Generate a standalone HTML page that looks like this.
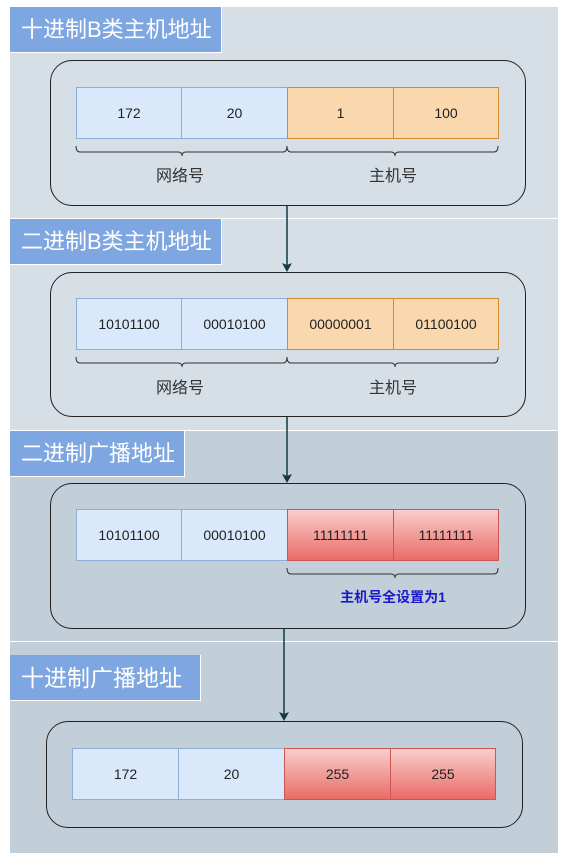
<!DOCTYPE html>
<html><head><meta charset="utf-8"><style>
body{margin:0;width:570px;height:862px;background:#fff;position:relative;font-family:"Liberation Sans","Noto Sans CJK SC",sans-serif;overflow:hidden}
.p{position:absolute;left:10px;width:548px}
.t{position:absolute;left:10px;background:#7ea6e0;color:#fff;font-size:22px;line-height:46px;height:46px;padding-left:11px;border-right:1px solid #fff;border-bottom:1px solid #fff;box-sizing:border-box;white-space:nowrap;overflow:hidden}
.c{position:absolute;border:1.5px solid #222;border-radius:22px;box-sizing:border-box}
.cell{position:absolute;height:52px;box-sizing:border-box;font-size:14px;color:#222;display:flex;align-items:center;justify-content:center}
.b{background:#dae8fc;border:1px solid #8eaed8}
.o{background:#fad7ac;border:1px solid #d08a30}
.r{background:linear-gradient(#f8cecc,#ea6b66);border:1px solid #c55}
.lab{position:absolute;font-size:15px;color:#333;text-align:center}
svg{position:absolute;left:0;top:0}
</style></head><body>
<div class="p" style="top:7px;height:211px;background:#d6dee6"></div>
<div class="p" style="top:219px;height:211px;background:#d6dee6"></div>
<div class="p" style="top:431px;height:210px;background:#c2cfd8"></div>
<div class="p" style="top:642px;height:211px;background:#c2cfd8"></div>
<div class="t" style="top:7px;width:212px">十进制B类主机地址</div>
<div class="t" style="top:219px;width:212px">二进制B类主机地址</div>
<div class="t" style="top:431px;width:175px">二进制广播地址</div>
<div class="t" style="top:655px;width:191px;font-size:23px">十进制广播地址</div>

<div class="c" style="left:50px;top:60px;width:476px;height:146px"></div>
<div class="c" style="left:50px;top:272px;width:476px;height:145px"></div>
<div class="c" style="left:50px;top:483px;width:476px;height:146px"></div>
<div class="c" style="left:46px;top:721px;width:477px;height:107px"></div>

<div class="cell b" style="left:76px;top:87px;width:106px">172</div>
<div class="cell b" style="left:181px;top:87px;width:107px">20</div>
<div class="cell o" style="left:287px;top:87px;width:107px">1</div>
<div class="cell o" style="left:393px;top:87px;width:106px">100</div>

<div class="cell b" style="left:76px;top:298px;width:106px">10101100</div>
<div class="cell b" style="left:181px;top:298px;width:107px">00010100</div>
<div class="cell o" style="left:287px;top:298px;width:107px">00000001</div>
<div class="cell o" style="left:393px;top:298px;width:106px">01100100</div>

<div class="cell b" style="left:76px;top:509px;width:106px">10101100</div>
<div class="cell b" style="left:181px;top:509px;width:107px">00010100</div>
<div class="cell r" style="left:287px;top:509px;width:107px">11111111</div>
<div class="cell r" style="left:393px;top:509px;width:106px">11111111</div>

<div class="cell b" style="left:72px;top:748px;width:107px">172</div>
<div class="cell b" style="left:178px;top:748px;width:107px">20</div>
<div class="cell r" style="left:284px;top:748px;width:107px">255</div>
<div class="cell r" style="left:390px;top:748px;width:106px">255</div>

<div class="lab" style="left:130px;top:162px;width:100px;font-size:16px">网络号</div>
<div class="lab" style="left:343px;top:162px;width:100px;font-size:16px">主机号</div>
<div class="lab" style="left:130px;top:374px;width:100px;font-size:16px">网络号</div>
<div class="lab" style="left:343px;top:374px;width:100px;font-size:16px">主机号</div>
<div class="lab" style="left:313px;top:587px;width:160px;color:#1a1acc;font-weight:bold;font-size:14px">主机号全设置为1</div>

<svg width="570" height="862" fill="none" stroke="#333" stroke-width="1">
<path d="M76,146 q0,6 4,6 H178 q4,0 4,4 q0,-4 4,-4 H283 q4,0 4,-6 q0,6 4,6 H391 q4,0 4,4 q0,-4 4,-4 H494 q4,0 4,-6"/>
<path d="M76,357 q0,6 4,6 H178 q4,0 4,4 q0,-4 4,-4 H283 q4,0 4,-6 q0,6 4,6 H391 q4,0 4,4 q0,-4 4,-4 H494 q4,0 4,-6"/>
<path d="M287,568 q0,6 4,6 H391 q4,0 4,4 q0,-4 4,-4 H494 q4,0 4,-6"/>
<g stroke="#123a44" stroke-width="1.5">
<path d="M287,206 V265"/><path d="M287,417 V477"/><path d="M284,629 V714"/>
</g>
<g fill="#123a44" stroke="none">
<path d="M282,263 L287,272 L292,263 L287,265Z"/>
<path d="M282,474 L287,483 L292,474 L287,476Z"/>
<path d="M279,712 L284,721 L289,712 L284,714Z"/>
</g>
</svg>
</body></html>
